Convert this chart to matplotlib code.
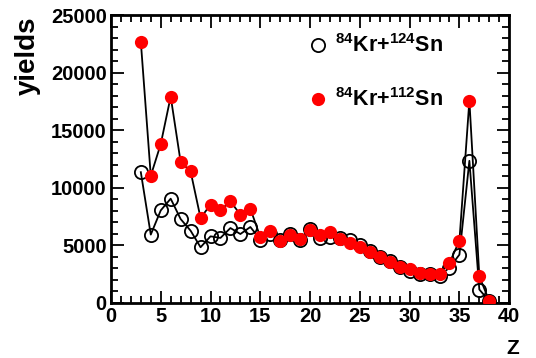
import numpy as np
import matplotlib
matplotlib.use("Agg")
import matplotlib.pyplot as plt
from matplotlib.ticker import MultipleLocator
from matplotlib.lines import Line2D

plt.rcParams['font.family'] = ['Liberation Sans', 'DejaVu Sans']
plt.rcParams['font.weight'] = 'bold'
plt.rcParams['mathtext.fontset'] = 'custom'
plt.rcParams['mathtext.rm'] = 'Liberation Sans:bold'
plt.rcParams['mathtext.bf'] = 'Liberation Sans:bold'
plt.rcParams['mathtext.default'] = 'rm'

# yields vs Z
z = np.arange(3, 39)
kr124 = [11350, 5930, 8030, 9050, 7280, 6270, 4830, 5780, 5640, 6500,
         5980, 6590, 5500, 5950, 5500, 6000, 5500, 6420, 5640, 5720,
         5600, 5430, 5060, 4480, 4000, 3600, 3150, 2750, 2550, 2500,
         2370, 3050, 4190, 12340, 1160, 150]
kr112 = [22690, 11040, 13790, 17920, 12230, 11420, 7370, 8530, 8040, 8820,
         7660, 8180, 5720, 6210, 5350, 5870, 5550, 6300, 5930, 6160,
         5550, 5200, 4860, 4420, 3990, 3560, 3090, 2950, 2600, 2540,
         2540, 3470, 5400, 17570, 2310, 150]

fig = plt.figure(figsize=(5.36, 3.58), dpi=100)
ax = fig.add_axes([0.207, 0.154, 0.743, 0.804])

ax.plot(z, kr124, color='black', lw=1.3, marker='o', ms=9.5,
        mfc='none', mec='black', mew=1.3, zorder=3)
ax.plot(z, kr112, color='black', lw=1.3, marker='o', ms=9.5,
        mfc='red', mec='red', mew=0, zorder=4)

ax.set_xlim(0, 40)
ax.set_ylim(0, 25000)
ax.xaxis.set_major_locator(MultipleLocator(5))
ax.xaxis.set_minor_locator(MultipleLocator(1))
ax.yaxis.set_major_locator(MultipleLocator(5000))
ax.yaxis.set_minor_locator(MultipleLocator(1000))
ax.tick_params(which='both', direction='in', top=True, right=True,
               width=1.3, labelsize=14.5, pad=3)
ax.tick_params(which='major', length=9)
ax.tick_params(which='minor', length=5)
for s in ax.spines.values():
    s.set_linewidth(2)

ax.set_ylabel('yields', fontsize=20, fontweight='bold')
ax.yaxis.set_label_coords(-0.175, 0.86)
ax.set_xlabel('Z', fontsize=15, fontweight='bold')
ax.xaxis.set_label_coords(1.01, -0.125)

handles = [
    Line2D([], [], ls='none', marker='o', ms=9.5, mfc='none', mec='black', mew=1.3),
    Line2D([], [], ls='none', marker='o', ms=9.5, mfc='red', mec='red', mew=0),
]
labels = ['$^{84}$Kr+$^{124}$Sn', '$^{84}$Kr+$^{112}$Sn']
ax.legend(handles, labels, loc='upper left', bbox_to_anchor=(0.443, 1.0),
          frameon=False, labelspacing=1.45, handletextpad=0.3,
          handlelength=1.0, prop={'size': 15.5, 'weight': 'bold'})

fig.savefig('out.png', dpi=100)
